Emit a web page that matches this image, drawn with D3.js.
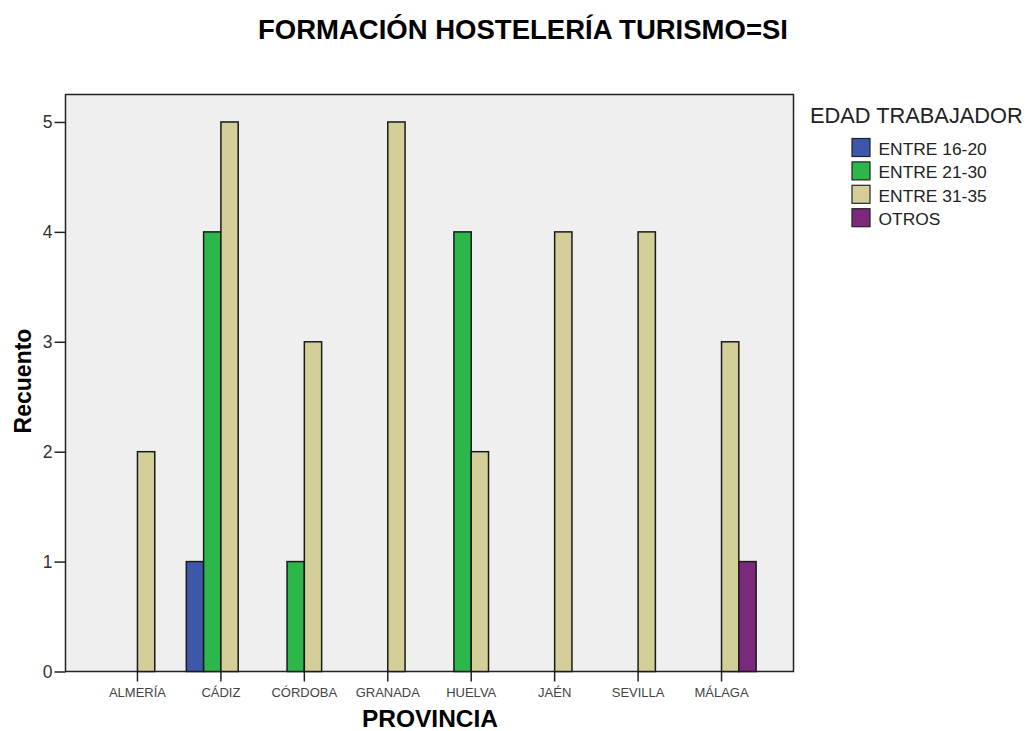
<!DOCTYPE html>
<html>
<head>
<meta charset="utf-8">
<script src="https://cdn.jsdelivr.net/npm/d3@7"></script>
<style>
  html, body { margin: 0; padding: 0; background: #fff; }
  svg { display: block; font-family: "Liberation Sans", Arial, sans-serif; }
</style>
</head>
<body>
<svg id="chart" width="1031" height="731"></svg>
<script>
// Provinces along the x axis
const provincias = ["ALMERÍA", "CÁDIZ", "CÓRDOBA", "GRANADA", "HUELVA", "JAÉN", "SEVILLA", "MÁLAGA"];
// Age groups (series)
const edades = ["ENTRE 16-20", "ENTRE 21-30", "ENTRE 31-35", "OTROS"];
// Counts per province for each age group
const entre16_20 = [0, 1, 0, 0, 0, 0, 0, 0];
const entre21_30 = [0, 4, 1, 0, 4, 0, 0, 0];
const entre31_35 = [2, 5, 3, 5, 2, 4, 4, 3];
const otros      = [0, 0, 0, 0, 0, 0, 0, 1];
const yTicks = [0, 1, 2, 3, 4, 5];
const colores = ["#3d57aa", "#2db649", "#d4cf98", "#7c287d"];

const series = [entre16_20, entre21_30, entre31_35, otros];

const svg = d3.select("#chart");
const plotL = 65.5, plotR = 793.5, plotT = 94.5, plotB = 671.5;

const x = d3.scaleBand().domain(provincias).range([plotL, plotR])
  .paddingInner(0.171).paddingOuter(0.448);
const xs = d3.scaleBand().domain(edades).range([0, x.bandwidth()]);
const y = d3.scaleLinear().domain([0, 5.25]).range([plotB, plotT]);

// Plot background and frame
svg.append("rect")
  .attr("x", plotL).attr("y", plotT)
  .attr("width", plotR - plotL).attr("height", plotB - plotT)
  .attr("fill", "#efefef").attr("stroke", "#222").attr("stroke-width", 1.5);

// Bars
const bars = [];
provincias.forEach((p, i) => {
  edades.forEach((e, j) => {
    const v = series[j][i];
    if (v > 0) bars.push({ p, e, v, c: colores[j] });
  });
});
svg.append("g").selectAll("rect").data(bars).join("rect")
  .attr("x", d => x(d.p) + xs(d.e))
  .attr("y", d => y(d.v))
  .attr("width", xs.bandwidth())
  .attr("height", d => y(0) - y(d.v))
  .attr("fill", d => d.c)
  .attr("stroke", "#1a1a1a").attr("stroke-width", 1.5);

// Y axis
const yAxis = svg.append("g").attr("transform", `translate(${plotL},0)`)
  .call(d3.axisLeft(y).tickValues(yTicks).tickFormat(d3.format("d")).tickSize(11).tickPadding(2));
yAxis.select(".domain").remove();
yAxis.selectAll(".tick line").attr("stroke", "#222").attr("stroke-width", 1.5);
yAxis.selectAll(".tick text").attr("font-size", 17.5).attr("fill", "#333");

// X axis (ticks at the centre of each group)
const xAxis = svg.append("g").attr("transform", `translate(0,${plotB})`)
  .call(d3.axisBottom(x).tickSize(10));
xAxis.select(".domain").remove();
xAxis.selectAll(".tick line").attr("stroke", "#222").attr("stroke-width", 1.5);
xAxis.selectAll(".tick text").attr("font-size", 13).attr("fill", "#444")
  .attr("y", 25).attr("dy", null);

// Titles
svg.append("text").attr("x", 523).attr("y", 39).attr("text-anchor", "middle")
  .attr("font-size", 27.5).attr("font-weight", "bold").attr("fill", "#000")
  .text("FORMACIÓN HOSTELERÍA TURISMO=SI");
svg.append("text").attr("x", 430).attr("y", 727).attr("text-anchor", "middle")
  .attr("font-size", 24.5).attr("font-weight", "bold").attr("fill", "#000")
  .text("PROVINCIA");
svg.append("text").attr("transform", "translate(31,381) rotate(-90)").attr("text-anchor", "middle")
  .attr("font-size", 23).attr("font-weight", "bold").attr("fill", "#000")
  .text("Recuento");

// Legend
const lg = svg.append("g");
lg.append("text").attr("x", 810).attr("y", 123).attr("font-size", 21.8).attr("fill", "#222")
  .text("EDAD TRABAJADOR");
const items = lg.selectAll("g.item").data(edades).join("g").attr("class", "item")
  .attr("transform", (d, i) => `translate(852,${138.5 + i * 23.4})`);
items.append("rect").attr("width", 18).attr("height", 18)
  .attr("fill", (d, i) => colores[i]).attr("stroke", "#222").attr("stroke-width", 1.2);
items.append("text").attr("x", 26.5).attr("y", 16.5).attr("font-size", 17.4).attr("fill", "#222")
  .text(d => d);
</script>
</body>
</html>
